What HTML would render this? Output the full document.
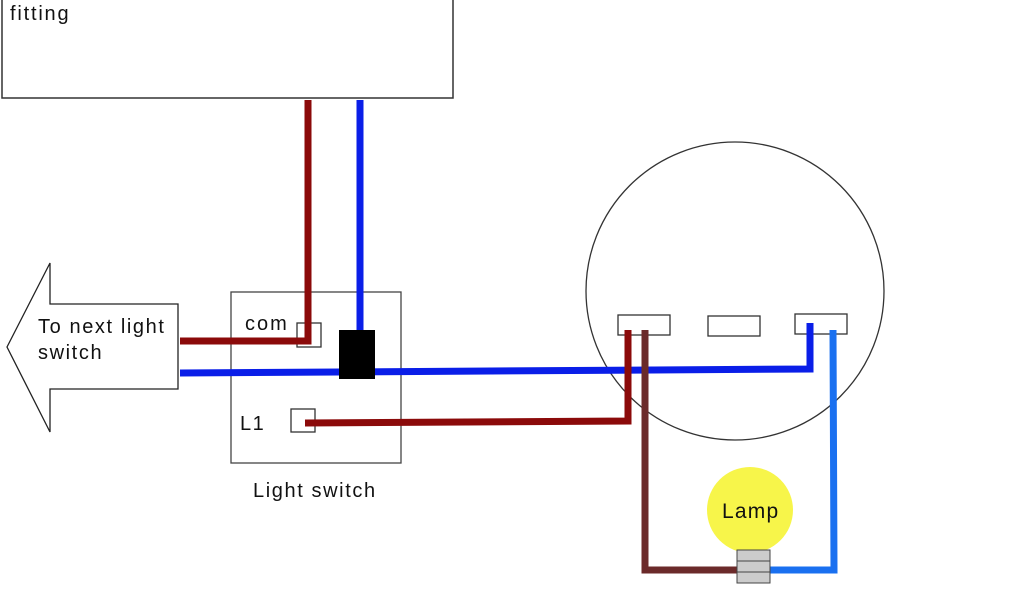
<!DOCTYPE html>
<html><head><style>body{margin:0;background:#fff}</style></head><body>
<svg width="1024" height="600" xmlns="http://www.w3.org/2000/svg" style="display:block;font-family:'Liberation Sans',sans-serif">
<rect x="2" y="-5" width="451" height="103" fill="#fff" stroke="#333" stroke-width="1.5"/>
<text x="10" y="20" font-size="20" fill="#111" letter-spacing="1.8">fitting</text>
<polygon points="7,347 50,263 50,304 178,304 178,389 50,389 50,432" fill="#fff" stroke="#222" stroke-width="1.3"/>
<text x="38" y="333" font-size="20" fill="#111" letter-spacing="1.6">To next light</text>
<text x="38" y="359" font-size="20" fill="#111" letter-spacing="1.6">switch</text>
<rect x="231" y="292" width="170" height="171" fill="#fff" stroke="#444" stroke-width="1.3"/>
<text x="245" y="330" font-size="20" fill="#111" letter-spacing="2">com</text>
<text x="240" y="430" font-size="20" fill="#111" letter-spacing="1.5">L1</text>
<text x="253" y="497" font-size="20" fill="#111" letter-spacing="1.6">Light switch</text>
<circle cx="735" cy="291" r="149" fill="none" stroke="#333" stroke-width="1.3"/>
<rect x="618" y="315" width="52" height="20" fill="#fff" stroke="#333" stroke-width="1.3"/>
<rect x="708" y="316" width="52" height="20" fill="#fff" stroke="#333" stroke-width="1.3"/>
<rect x="795" y="314" width="52" height="20" fill="#fff" stroke="#333" stroke-width="1.3"/>
<rect x="297" y="323" width="24" height="24" fill="#fff" stroke="#333" stroke-width="1.3"/>
<rect x="291" y="409" width="24" height="23" fill="#fff" stroke="#333" stroke-width="1.3"/>
<g fill="none" stroke-width="7" stroke-linejoin="miter">
<polyline points="308,100 308,341 180,341" stroke="#8b0a0a"/>
<polyline points="360,100 360,340" stroke="#0a1ee8"/>
<polyline points="180,373 810,369 810,323" stroke="#0a1ee8"/>
<polyline points="305,423 628,421 628,330" stroke="#8b0a0a"/>
<polyline points="645,330 645,570 740,570" stroke="#6b2a2a"/>
<polyline points="833,330 834,570 770,570" stroke="#1a70f0"/>
</g>
<rect x="339" y="330" width="36" height="49" fill="#000"/>
<circle cx="750" cy="510" r="43" fill="#f7f54a"/>
<text x="722" y="518" font-size="21" fill="#111" letter-spacing="1.2">Lamp</text>
<g fill="#ccc" stroke="#444" stroke-width="1"><rect x="737" y="550" width="33" height="11"/><rect x="737" y="561" width="33" height="11"/><rect x="737" y="572" width="33" height="11"/></g>
</svg>
</body></html>
